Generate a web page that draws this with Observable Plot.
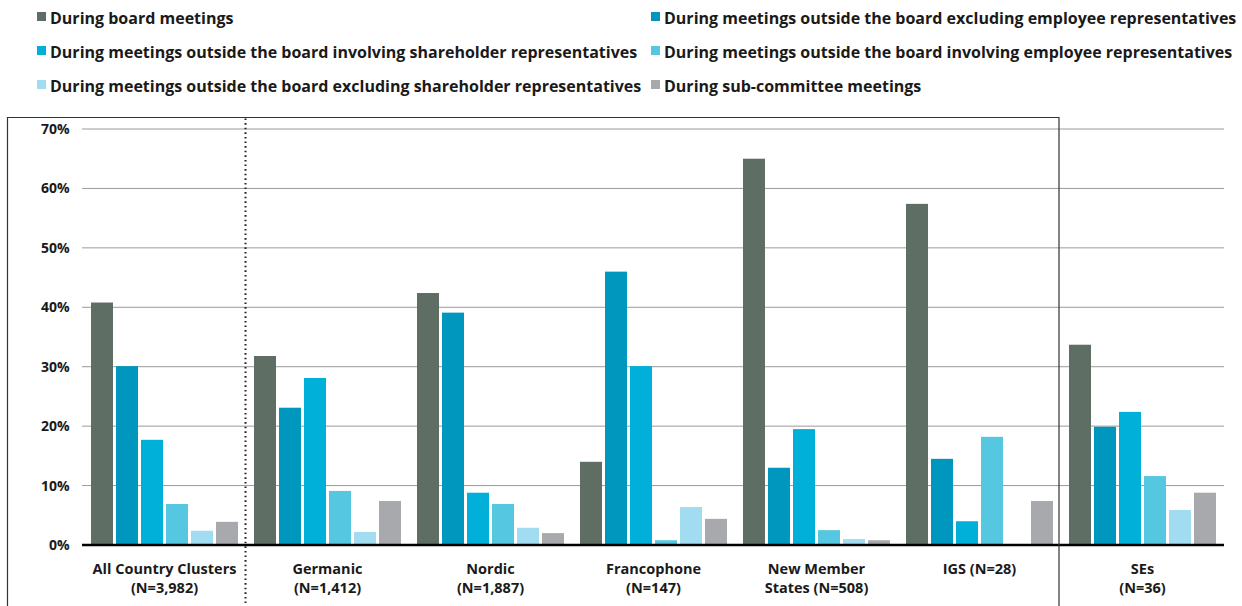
<!DOCTYPE html>
<html>
<head>
<meta charset="utf-8">
<script src="https://cdn.jsdelivr.net/npm/d3@7"></script>
<script src="https://cdn.jsdelivr.net/npm/@observablehq/plot@0.6"></script>
<style>
  html, body { margin: 0; padding: 0; background: #fff; }
  body { width: 1242px; height: 606px; overflow: hidden; font-family: "Open Sans", "Noto Sans", sans-serif; }
  #legend { position: relative; height: 105px; }
  .item { position: absolute; display: flex; align-items: center; font-weight: bold; font-size: 16px; color: #1a1a1a; white-space: nowrap; }
  .sw { width: 9px; height: 9px; margin-right: 4px; margin-top: -3px; flex: none; }
  #chart { position: relative; }
  #chart svg { display: block; overflow: visible; }
</style>
</head>
<body>
<div id="legend"></div>
<div id="chart"></div>
<script>
const groups = [
  "All Country Clusters\n(N=3,982)",
  "Germanic\n(N=1,412)",
  "Nordic\n(N=1,887)",
  "Francophone\n(N=147)",
  "New Member\nStates (N=508)",
  "IGS (N=28)",
  "SEs\n(N=36)"
];
const series = [
  "During board meetings",
  "During meetings outside the board excluding employee representatives",
  "During meetings outside the board involving shareholder representatives",
  "During meetings outside the board involving employee representatives",
  "During meetings outside the board excluding shareholder representatives",
  "During sub-committee meetings"
];
const colors = ["#5e6e64", "#0097be", "#00b0d8", "#55c7e0", "#a1dcf0", "#a8a9ac"];
const boardMeetings      = [40.8, 31.8, 42.4, 14.0, 65.0, 57.4, 33.7];
const exclEmployee       = [30.1, 23.1, 39.1, 46.0, 13.0, 14.5, 19.9];
const inclShareholder    = [17.7, 28.1,  8.8, 30.1, 19.5,  4.0, 22.4];
const inclEmployee       = [ 6.9,  9.1,  6.9,  0.8,  2.5, 18.2, 11.6];
const exclShareholder    = [ 2.4,  2.2,  2.9,  6.4,  1.0,  0.0,  5.9];
const subCommittee       = [ 3.9,  7.4,  2.0,  4.4,  0.8,  7.4,  8.8];
const yTicks = [0, 10, 20, 30, 40, 50, 60, 70];

const seriesValues = [boardMeetings, exclEmployee, inclShareholder, inclEmployee, exclShareholder, subCommittee];
const data = groups.flatMap((g, i) => series.map((s, j) => ({group: g, series: s, value: seriesValues[j][i]})));

// Legend (two columns, row-major)
const legendEl = document.getElementById("legend");
series.forEach((s, j) => {
  const col = j % 2, row = Math.floor(j / 2);
  const el = document.createElement("div");
  el.className = "item";
  el.style.left = (col === 0 ? 37 : 651) + "px";
  el.style.top = (row * 34 + 7) + "px";
  el.style.height = "22px";
  el.innerHTML = `<span class="sw" style="background:${colors[j]}"></span><span>${s}</span>`;
  legendEl.appendChild(el);
});

const plot = Plot.plot({
  width: 1242,
  height: 501,
  marginLeft: 82,
  marginRight: 18,
  marginTop: 24,
  marginBottom: 61,
  style: {fontFamily: "'Open Sans', 'Noto Sans', sans-serif", fontWeight: "bold", fontSize: "14px", color: "#1a1a1a", background: "transparent"},
  fx: {domain: groups, paddingInner: 0.08, paddingOuter: 0.04},
  x: {domain: series, axis: null, paddingInner: 0.13, paddingOuter: 0},
  y: {domain: [0, 70]},
  color: {domain: series, range: colors},
  marks: [
    Plot.axisY(yTicks, {tickSize: 0, tickPadding: 20, tickFormat: d => d + "%", label: null, fontSize: 14}),
    Plot.axisFx({anchor: "bottom", tickSize: 0, tickPadding: 15, lineHeight: 1.3, fontSize: 14.5, label: null}),
    Plot.barY(data, {fx: "group", x: "series", y: "value", fill: "series"})
  ]
});
document.getElementById("chart").appendChild(plot);

// Continuous gridlines and baseline from the y scale; frame and separator from the fx scale
const yScale = plot.scale("y");
const fxScale = plot.scale("fx");
const svgSel = d3.select(plot);
const x0 = 82, x1 = 1242 - 18;
const grid = svgSel.insert("g", ":first-child");
grid.selectAll("line").data(yTicks.filter(d => d > 0)).join("line")
  .attr("x1", x0).attr("x2", x1)
  .attr("y1", d => yScale.apply(d)).attr("y2", d => yScale.apply(d))
  .attr("stroke", "#9a9a9a").attr("stroke-width", 1);
svgSel.append("line")
  .attr("x1", x0).attr("x2", x1)
  .attr("y1", yScale.apply(0)).attr("y2", yScale.apply(0))
  .attr("stroke", "#000").attr("stroke-width", 2.5);

const bw = fxScale.bandwidth;
const stepW = fxScale.apply(groups[1]) - fxScale.apply(groups[0]);
const gapW = stepW - bw;
const boundary = g => fxScale.apply(g) - gapW / 2;
const frameTop = 12.5, frameBottom = 520, frameLeft = 7.5;
const rightX = boundary(groups[6]) - 1.5;
svgSel.append("path")
  .attr("d", `M${frameLeft},${frameBottom}V${frameTop}H${rightX}V${frameBottom}`)
  .attr("fill", "none").attr("stroke", "#333").attr("stroke-width", 1.2);
svgSel.append("line")
  .attr("x1", boundary(groups[1])).attr("x2", boundary(groups[1]))
  .attr("y1", frameTop + 1).attr("y2", frameBottom)
  .attr("stroke", "#222").attr("stroke-width", 2).attr("stroke-dasharray", "1.6,3");
</script>
</body>
</html>
